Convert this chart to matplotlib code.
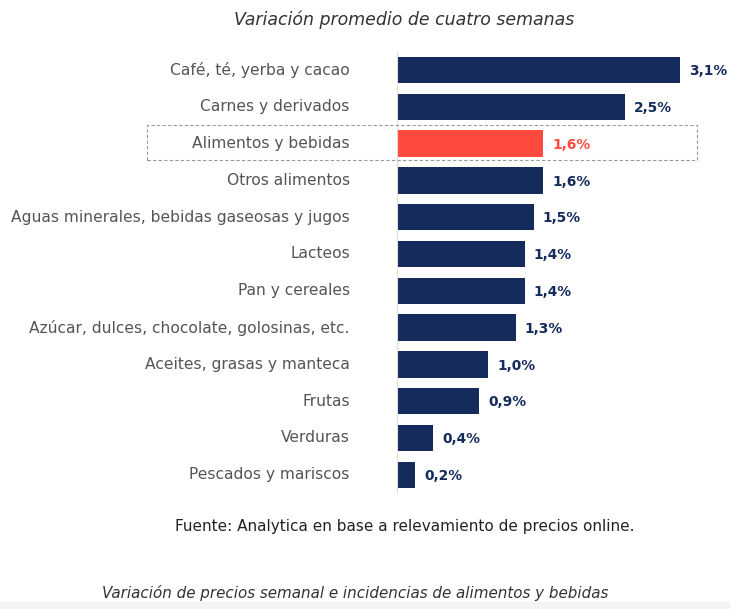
import matplotlib.pyplot as plt
from matplotlib.patches import Rectangle

categorias = [
    "Café, té, yerba y cacao",
    "Carnes y derivados",
    "Alimentos y bebidas",
    "Otros alimentos",
    "Aguas minerales, bebidas gaseosas y jugos",
    "Lacteos",
    "Pan y cereales",
    "Azúcar, dulces, chocolate, golosinas, etc.",
    "Aceites, grasas y manteca",
    "Frutas",
    "Verduras",
    "Pescados y mariscos",
]
variacion = [3.1, 2.5, 1.6, 1.6, 1.5, 1.4, 1.4, 1.3, 1.0, 0.9, 0.4, 0.2]
destacado = "Alimentos y bebidas"

navy = "#142b5c"
red = "#ff4a3d"
grey_text = "#555555"

plt.rcParams["font.family"] = ["DejaVu Sans"]

fig = plt.figure(figsize=(7.3, 6.09), dpi=100)
ax = fig.add_axes([397 / 730, 1 - 493.2 / 609, 330 / 730, 441.6 / 609])

y = list(range(len(categorias)))
colores = [red if c == destacado else navy for c in categorias]
ax.barh(y, variacion, height=0.72, color=colores)
ax.set_xlim(0, 3.62)
ax.set_ylim(len(categorias) - 0.5, -0.5)

# value labels at the end of each bar
for yi, v, c in zip(y, variacion, colores):
    ax.text(v + 0.1, yi + 0.03, f"{v:.1f}%".replace(".", ","), va="center", ha="left",
            fontsize=9.9, fontweight="bold", color=c)

ax.set_yticks(y)
ax.set_yticklabels(categorias, fontsize=11.2, color=grey_text, va="center")
ax.tick_params(axis="y", length=0, pad=34)
ax.set_xticks([])
for s in ["top", "right", "bottom"]:
    ax.spines[s].set_visible(False)
ax.spines["left"].set_color("#dddddd")
ax.spines["left"].set_linewidth(0.8)

# dashed frame around highlighted row
fig.patches.append(Rectangle((147 / 730, 1 - 160 / 609), 550 / 730, 35 / 609,
                             transform=fig.transFigure, fill=False,
                             edgecolor="#999999", linestyle=(0, (3, 2)),
                             linewidth=0.8))

fig.text(404 / 730, 1 - 20 / 609, "Variación promedio de cuatro semanas",
         ha="center", va="center", fontsize=12.5, style="italic", color="#333333")
fig.text(405 / 730, 1 - 527 / 609, "Fuente: Analytica en base a relevamiento de precios online.",
         ha="center", va="center", fontsize=11, color="#222222")
fig.text(355 / 730, 1 - 593 / 609, "Variación de precios semanal e incidencias de alimentos y bebidas",
         ha="center", va="center", fontsize=10.9, style="italic", color="#333333")
fig.patches.append(Rectangle((0, 0), 1, 7 / 609, transform=fig.transFigure,
                             facecolor="#f3f4f6", edgecolor="none"))

fig.savefig("out.png", dpi=100)
